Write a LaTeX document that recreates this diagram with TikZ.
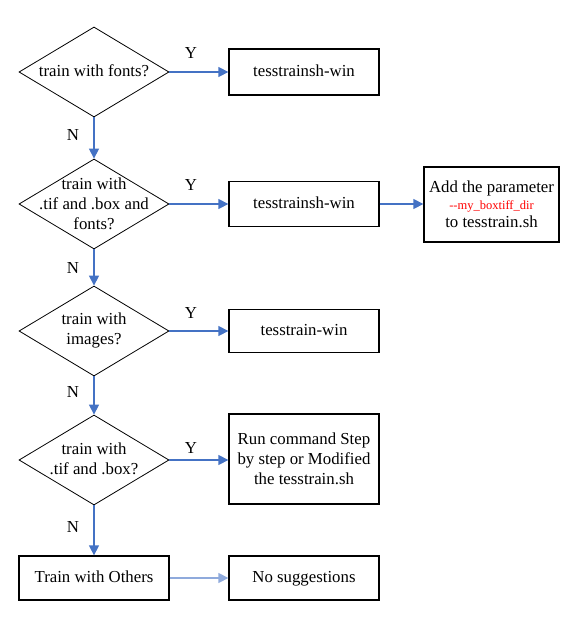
\documentclass[tikz,border=0pt]{standalone}
\usepackage{fontspec}
\setmainfont{Liberation Serif}
\usetikzlibrary{shapes.geometric,arrows.meta}
\definecolor{flowblue}{HTML}{4472C4}
\definecolor{lightflow}{HTML}{8FAADC}
\tikzset{
  x=1pt,y=-1pt,
  every node/.style={font=\fontsize{16.8}{20}\selectfont},
  decision/.style={diamond,draw=black,line width=0.8pt,minimum width=150pt,minimum height=90pt,inner sep=0pt,aspect=1.6667},
  actbox/.style={rectangle,draw=black,line width=1.3pt,minimum width=150pt,inner sep=0pt,align=center},
  oneline/.style={text height=11.5pt,text depth=3.5pt},
  flow/.style={draw=flowblue,line width=1.3pt,-{Triangle[length=10pt,width=10pt]}},
  lbl/.style={inner sep=0pt}
}
\begin{document}
\begin{tikzpicture}
\useasboundingbox (0,0) rectangle (573,626);
% decisions
\node[decision] (d1) at (94,72) {};
\node[lbl,oneline] (t1) at (94,72) {train with fonts?};
\node[decision] (d2) at (94,204) {};
\node[lbl,align=center] (t2) at (94,204) {train with\\.tif and .box and\\fonts?};
\node[decision] (d3) at (94,331) {};
\node[lbl,align=center] (t3) at (94,330) {train with\\images?};
\node[decision] (d4) at (94,460) {};
\node[lbl,align=center] (t4) at (94,459) {train with\\.tif and .box?};
% boxes
\node[actbox,oneline,minimum height=46pt] (b1) at (304,72) {tesstrainsh-win};
\node[actbox,oneline,minimum height=45pt] (b2) at (304,204) {tesstrainsh-win};
\node[actbox,minimum width=135pt,minimum height=75pt] (b2p) at (491.5,204.5) {Add the parameter\\[-3pt]{\fontsize{12.5}{14}\selectfont\color{red}{-}{-}my\_boxtiff\_dir}\\[-2pt]to tesstrain.sh};
\node[actbox,oneline,minimum height=43pt] (b3) at (304,331) {tesstrain-win};
\node[actbox,minimum height=90pt] (b4) at (304,459) {Run command Step\\by step or Modified\\the tesstrain.sh};
\node[actbox,oneline,minimum height=44pt] (b5) at (94,578) {Train with Others};
\node[actbox,oneline,minimum height=44pt] (b6) at (304,578) {No suggestions};
% connectors
\draw[flow] (d1.east) -- (d1.east -| b1.west);
\draw[flow] (d2.east) -- (d2.east -| b2.west);
\draw[flow] (b2.east) -- (b2.east -| b2p.west);
\draw[flow] (d3.east) -- (d3.east -| b3.west);
\draw[flow] (d4.east) -- (d4.east -| b4.west);
\draw[flow] (d1.south) -- (d2.north);
\draw[flow] (d2.south) -- (d3.north);
\draw[flow] (d3.south) -- (d4.north);
\draw[flow] (d4.south) -- (b5.north);
\draw[flow,draw=lightflow] (b5.east) -- (b6.west);
% labels
\node[lbl] (y1) at (191,53) {Y};
\node[lbl] (y2) at (191,185) {Y};
\node[lbl] (y3) at (191,313) {Y};
\node[lbl] (y4) at (191,448) {Y};
\node[lbl] (n1) at (73,135) {N};
\node[lbl] (n2) at (73,268) {N};
\node[lbl] (n3) at (73,392) {N};
\node[lbl] (n4) at (73,527) {N};
\end{tikzpicture}
\end{document}
